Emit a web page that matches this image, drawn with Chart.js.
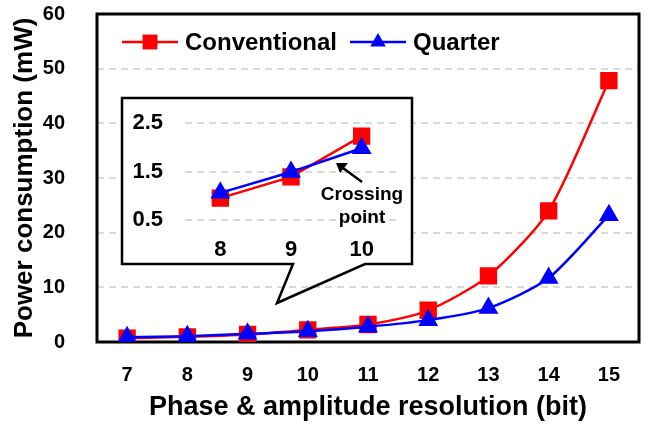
<!DOCTYPE html>
<html>
<head>
<meta charset="utf-8">
<script src="https://cdn.jsdelivr.net/npm/chart.js@4.4.1/dist/chart.umd.min.js"></script>
<style>
  html, body { margin: 0; padding: 0; background: #fff; }
  #wrap { position: relative; width: 648px; height: 426px; }
  #chart { position: absolute; left: 0; top: 0; }
  #inset { position: absolute; left: 122px; top: 98px; }
</style>
</head>
<body>
<div id="wrap">
  <canvas id="chart" width="648" height="426"></canvas>
  <canvas id="inset" width="291" height="167"></canvas>
</div>
<script>
const bits = ['7', '8', '9', '10', '11', '12', '13', '14', '15']
const conventional = [0.7, 0.95, 1.39, 2.23, 3.2, 5.8, 12.1, 24.0, 47.8]
const quarter = [0.85, 1.06, 1.49, 1.98, 2.8, 4.0, 6.2, 11.7, 23.2]
const yTicks = [0, 10, 20, 30, 40, 50, 60]

// zoomed part (8 to 10 bit)
const insetBits = ['8', '9', '10']
const insetConventional = conventional.slice(1, 4)
const insetQuarter = quarter.slice(1, 4)
const insetTicks = [0.5, 1.5, 2.5]

const FONT = "'Liberation Sans', Arial, sans-serif"
const RED = '#ff0000'
const BLUE = '#0000ff'
const GRID = '#d9d9d9'

// callout box around the inset, page coords
const box = { left: 122, top: 98, right: 412, bottom: 264 }
const tail = [[365, 264], [277, 303], [293, 264]]

function marker(ctx, style, x, y, r, color) {
  ctx.fillStyle = color
  ctx.beginPath()
  if (style === 'rect') {
    const s = r * Math.SQRT1_2
    ctx.rect(x - s, y - s, 2 * s, 2 * s)
  } else {
    ctx.moveTo(x, y - r)
    ctx.lineTo(x + r * 0.866, y + r / 2)
    ctx.lineTo(x - r * 0.866, y + r / 2)
    ctx.closePath()
  }
  ctx.fill()
}

// chart.js adds tick padding to the scale edges, we place things ourselves
const fixX = h => s => { s.height = h; s.paddingLeft = 0; s.paddingRight = 0 }
const fixY = w => s => { s.width = w; s.paddingTop = 0; s.paddingBottom = 0 }

const framePlugin = {
  id: 'frame',
  beforeDatasetsDraw(chart) {
    const {ctx, chartArea: a} = chart
    ctx.save()
    ctx.strokeStyle = '#000'
    ctx.lineWidth = 3
    ctx.strokeRect(a.left, a.top, a.right - a.left, a.bottom - a.top)
    ctx.restore()
  },
  afterDraw(chart) {
    const ctx = chart.ctx
    ctx.save()
    // callout
    ctx.fillStyle = '#fff'
    ctx.fillRect(box.left, box.top, box.right - box.left, box.bottom - box.top)
    ctx.beginPath()
    ctx.moveTo(box.left, box.top)
    ctx.lineTo(box.right, box.top)
    ctx.lineTo(box.right, box.bottom)
    tail.forEach(p => ctx.lineTo(p[0], p[1]))
    ctx.lineTo(box.left, box.bottom)
    ctx.closePath()
    ctx.strokeStyle = '#000'
    ctx.lineWidth = 2.5
    ctx.lineJoin = 'miter'
    ctx.stroke()

    // legend
    let x = 122
    const y = 42
    ctx.font = 'bold 24px ' + FONT
    ctx.textBaseline = 'middle'
    chart.data.datasets.forEach(ds => {
      ctx.strokeStyle = ds.borderColor
      ctx.lineWidth = 2.5
      ctx.beginPath()
      ctx.moveTo(x, y)
      ctx.lineTo(x + 56, y)
      ctx.stroke()
      marker(ctx, ds.pointStyle, x + 28, y, ds.pointRadius, ds.backgroundColor)
      ctx.fillStyle = '#000'
      ctx.fillText(ds.label, x + 63, y + 1)
      x += 63 + ctx.measureText(ds.label).width + 13
    })
    ctx.restore()
  }
}

new Chart(document.getElementById('chart'), {
  type: 'line',
  data: {
    labels: bits,
    datasets: [
      {
        label: 'Conventional', data: conventional, order: 1,
        borderColor: RED, backgroundColor: RED, borderWidth: 2.5,
        pointStyle: 'rect', pointRadius: 10.5, tension: 0.25
      },
      {
        label: 'Quarter', data: quarter, order: 0,
        borderColor: BLUE, backgroundColor: BLUE, borderWidth: 2.5,
        pointStyle: 'triangle', pointRadius: 9, tension: 0.25
      }
    ]
  },
  options: {
    responsive: false,
    animation: false,
    devicePixelRatio: 1,
    layout: { autoPadding: false, padding: { left: 0, top: 14, right: 9, bottom: 0 } },
    plugins: { legend: { display: false }, tooltip: { enabled: false } },
    scales: {
      x: {
        offset: true,
        grid: { display: false, drawTicks: false, offset: true },
        border: { display: false },
        ticks: { color: '#000', font: { family: FONT, size: 20, weight: 'bold' }, padding: 21 },
        title: {
          display: true, text: 'Phase & amplitude resolution (bit)', color: '#000',
          font: { family: FONT, size: 27, weight: 'bold' }, padding: { top: 0, bottom: 2 }
        },
        afterFit: fixX(84)
      },
      y: {
        min: 0, max: 60,
        afterBuildTicks: s => { s.ticks = yTicks.map(v => ({ value: v })) },
        grid: {
          drawTicks: false, lineWidth: 2,
          color: c => (c.tick && (c.tick.value === 0 || c.tick.value === 60)) ? 'rgba(0,0,0,0)' : GRID
        },
        border: { display: false, dash: [7, 5] },
        ticks: { color: '#000', font: { family: FONT, size: 20, weight: 'bold' }, padding: 32 },
        title: {
          display: true, text: 'Power consumption (mW)', color: '#000',
          font: { family: FONT, size: 26, weight: 'bold' }, padding: { top: 9, bottom: 0 }
        },
        afterFit: fixY(97)
      }
    }
  },
  plugins: [framePlugin]
})

const notePlugin = {
  id: 'note',
  afterDraw(chart) {
    const ctx = chart.ctx
    ctx.save()
    // arrow to the crossing
    ctx.strokeStyle = '#000'
    ctx.fillStyle = '#000'
    ctx.lineWidth = 2.5
    ctx.beginPath()
    ctx.moveTo(240, 84)
    ctx.lineTo(221, 70)
    ctx.stroke()
    ctx.beginPath()
    ctx.moveTo(214, 65)
    ctx.lineTo(226, 65)
    ctx.lineTo(218, 75)
    ctx.closePath()
    ctx.fill()
    ctx.font = 'bold 19px ' + FONT
    ctx.textAlign = 'center'
    ctx.textBaseline = 'middle'
    ctx.fillText('Crossing', 240, 97)
    ctx.fillText('point', 240, 120)
    ctx.restore()
  }
}

new Chart(document.getElementById('inset'), {
  type: 'line',
  data: {
    labels: insetBits,
    datasets: [
      {
        label: 'Conventional', data: insetConventional, order: 1,
        borderColor: RED, backgroundColor: RED, borderWidth: 2.5,
        pointStyle: 'rect', pointRadius: 10.5, tension: 0
      },
      {
        label: 'Quarter', data: insetQuarter, order: 0,
        borderColor: BLUE, backgroundColor: BLUE, borderWidth: 2.5,
        pointStyle: 'triangle', pointRadius: 9, tension: 0
      }
    ]
  },
  options: {
    responsive: false,
    animation: false,
    devicePixelRatio: 1,
    layout: { autoPadding: false, padding: { left: 0, top: 25, right: 16, bottom: 0 } },
    plugins: { legend: { display: false }, tooltip: { enabled: false } },
    scales: {
      x: {
        offset: true,
        grid: { display: false, drawTicks: false, offset: true },
        border: { display: false },
        ticks: { color: '#000', font: { family: FONT, size: 22, weight: 'bold' }, padding: 17 },
        afterFit: fixX(45)
      },
      y: {
        min: 0.5, max: 2.5,
        afterBuildTicks: s => { s.ticks = insetTicks.map(v => ({ value: v })) },
        grid: { drawTicks: false, lineWidth: 2, color: GRID },
        border: { display: false, dash: [7, 5] },
        ticks: { color: '#000', font: { family: FONT, size: 22, weight: 'bold' }, padding: 22 },
        afterFit: fixY(63)
      }
    }
  },
  plugins: [notePlugin]
})
</script>
</body>
</html>
